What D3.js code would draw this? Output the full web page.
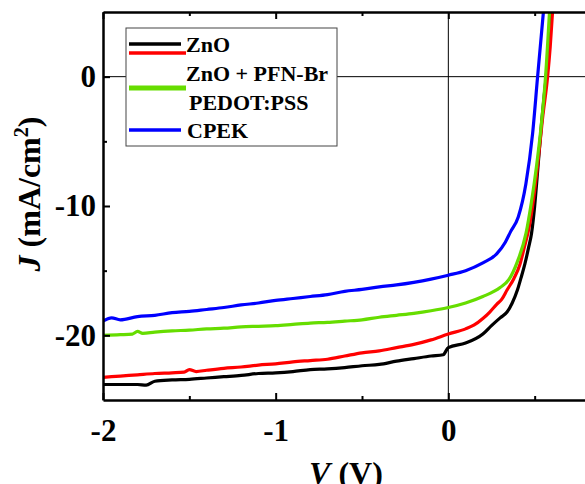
<!DOCTYPE html>
<html>
<head>
<meta charset="utf-8">
<script src="https://cdn.jsdelivr.net/npm/d3@7"></script>
<style>
  body { margin: 0; background: #fff; }
  text { font-family: "Liberation Serif", "Times New Roman", serif; font-weight: bold; }
</style>
</head>
<body>
<div class="chart"></div>
<script>
// J-V curves, [V (V), J (mA/cm2)]
var znoData = [
  [-2.0, -23.8], [-1.9, -23.8], [-1.8, -23.8], [-1.75, -23.85], [-1.7, -23.55], [-1.6, -23.45],
  [-1.5, -23.4], [-1.4, -23.3], [-1.3, -23.2], [-1.2, -23.1], [-1.1, -22.95], [-1.0, -22.9],
  [-0.9, -22.8], [-0.8, -22.65], [-0.7, -22.6], [-0.6, -22.5], [-0.5, -22.35], [-0.4, -22.25],
  [-0.3, -22.0], [-0.2, -21.8], [-0.1, -21.6], [-0.03, -21.5], [0.0, -20.95], [0.1, -20.6],
  [0.2, -19.9], [0.25, -19.25], [0.3, -18.65], [0.34, -18.2], [0.37, -17.5], [0.40, -16.5],
  [0.42, -15.6], [0.443, -14.5], [0.465, -13.2], [0.482, -12.1], [0.50, -10.0], [0.519, -7.0],
  [0.54, -3.6], [0.555, -1.5], [0.567, 0], [0.58, 2.2], [0.598, 5.5]
];
var pfnData = [
  [-2.0, -23.25], [-1.9, -23.15], [-1.8, -23.05], [-1.7, -22.95], [-1.6, -22.9], [-1.53, -22.85],
  [-1.5, -22.65], [-1.46, -22.8], [-1.4, -22.7], [-1.3, -22.55], [-1.2, -22.45], [-1.1, -22.3],
  [-1.0, -22.2], [-0.9, -22.05], [-0.8, -21.95], [-0.7, -21.85], [-0.6, -21.6], [-0.5, -21.35],
  [-0.4, -21.2], [-0.3, -20.95], [-0.2, -20.7], [-0.1, -20.35], [0.0, -19.9], [0.1, -19.5],
  [0.15, -19.2], [0.2, -18.7], [0.24, -18.2], [0.28, -17.6], [0.31, -17.2], [0.34, -16.5],
  [0.38, -15.6], [0.415, -14.5], [0.44, -13.2], [0.47, -11.5], [0.50, -8.8], [0.52, -6.5],
  [0.545, -3.3], [0.575, 0], [0.59, 2.3], [0.606, 5.5]
];
var pedotData = [
  [-2.0, -20.0], [-1.9, -19.95], [-1.83, -19.9], [-1.8, -19.7], [-1.77, -19.85], [-1.7, -19.75],
  [-1.6, -19.65], [-1.5, -19.6], [-1.4, -19.5], [-1.3, -19.45], [-1.2, -19.35], [-1.1, -19.3],
  [-1.0, -19.25], [-0.9, -19.15], [-0.8, -19.05], [-0.7, -19.0], [-0.6, -18.9], [-0.5, -18.8],
  [-0.4, -18.6], [-0.3, -18.45], [-0.2, -18.3], [-0.1, -18.1], [0.0, -17.85], [0.1, -17.5],
  [0.2, -17.0], [0.3, -16.3], [0.35, -15.7], [0.40, -14.3], [0.45, -12.1], [0.48, -9.8],
  [0.51, -7.0], [0.54, -3.5], [0.563, 0], [0.588, 5.5]
];
var cpekData = [
  [-2.0, -18.9], [-1.95, -18.65], [-1.9, -18.8], [-1.8, -18.55], [-1.7, -18.45], [-1.6, -18.25],
  [-1.5, -18.15], [-1.4, -18.0], [-1.3, -17.85], [-1.2, -17.65], [-1.1, -17.5], [-1.0, -17.3],
  [-0.9, -17.15], [-0.8, -17.0], [-0.7, -16.85], [-0.6, -16.6], [-0.5, -16.45], [-0.4, -16.25],
  [-0.3, -16.1], [-0.2, -15.9], [-0.1, -15.65], [0.0, -15.35], [0.1, -15.0], [0.2, -14.4],
  [0.28, -13.7], [0.33, -12.8], [0.36, -12.0], [0.405, -10.85], [0.449, -8.3], [0.488, -4.4],
  [0.517, 0], [0.554, 5.5]
];

var seriesNames = ["ZnO", "ZnO + PFN-Br", "PEDOT:PSS", "CPEK"];
var seriesColors = ["#000000", "#ff0000", "#66dd00", "#0000ff"];
var seriesData = [znoData, pfnData, pedotData, cpekData];

var xMajor = [-2, -1, 0, 1];
var xMinor = [-1.5, -0.5, 0.5];
var yMajor = [0, -10, -20];
var yMinor = [-5, -15];

var bSize = { width: 585, height: 484 };
var plotBox = { left: 103, top: 12, bottom: 400, right: 621 };

var svg = d3.select(".chart")
  .append("svg")
  .attr("width", bSize.width)
  .attr("height", bSize.height);

var x = d3.scaleLinear().domain([-2, 1]).range([plotBox.left, plotBox.right]);
var y = d3.scaleLinear().domain([-25, 5]).range([plotBox.bottom, plotBox.top]);

// plain hyphen minus, like the original figure; "1" sits off the page
var tickText = function(d) { return d > 0.5 ? "" : String(d); };

svg.append("clipPath").attr("id", "plot")
  .append("rect")
  .attr("x", plotBox.left).attr("y", plotBox.top)
  .attr("width", plotBox.right - plotBox.left)
  .attr("height", plotBox.bottom - plotBox.top);

// zero lines
svg.append("line")
  .attr("x1", plotBox.left).attr("x2", plotBox.right)
  .attr("y1", y(0)).attr("y2", y(0))
  .attr("stroke", "#000").attr("stroke-width", 1);
svg.append("line")
  .attr("x1", x(0)).attr("x2", x(0))
  .attr("y1", plotBox.top).attr("y2", plotBox.bottom)
  .attr("stroke", "#000").attr("stroke-width", 1);

var line = d3.line()
  .x(function(d) { return x(d[0]); })
  .y(function(d) { return y(d[1]); })
  .curve(d3.curveMonotoneX);

var curves = svg.append("g").attr("clip-path", "url(#plot)");
for (var i = 0; i < seriesData.length; i++) {
  curves.append("path")
    .attr("d", line(seriesData[i]))
    .attr("fill", "none")
    .attr("stroke", seriesColors[i])
    .attr("stroke-width", 3.2)
    .attr("stroke-linejoin", "round");
}

// axes
var styleAxis = function(g, size) {
  g.select(".domain").attr("stroke-width", 2.5);
  g.selectAll(".tick line").attr("stroke-width", 2);
  g.selectAll("text").attr("font-size", size).attr("fill", "#000");
};
var minorAxis = function(g) {
  g.select(".domain").remove();
  g.selectAll(".tick line").attr("stroke-width", 2);
};

svg.append("g")
  .attr("transform", "translate(0," + plotBox.bottom + ")")
  .call(d3.axisBottom(x).tickValues(xMajor).tickSizeInner(-7).tickSizeOuter(0)
    .tickPadding(19).tickFormat(tickText))
  .call(styleAxis, 31);
svg.append("g")
  .attr("transform", "translate(0," + plotBox.bottom + ")")
  .call(d3.axisBottom(x).tickValues(xMinor).tickSizeInner(-4).tickSizeOuter(0).tickFormat(""))
  .call(minorAxis);

svg.append("g")
  .attr("transform", "translate(0," + plotBox.top + ")")
  .call(d3.axisTop(x).tickValues(xMajor).tickSizeInner(-7).tickSizeOuter(0).tickFormat(""))
  .call(styleAxis, 0);
svg.append("g")
  .attr("transform", "translate(0," + plotBox.top + ")")
  .call(d3.axisTop(x).tickValues(xMinor).tickSizeInner(-4).tickSizeOuter(0).tickFormat(""))
  .call(minorAxis);

svg.append("g")
  .attr("transform", "translate(" + plotBox.left + ",0)")
  .call(d3.axisLeft(y).tickValues(yMajor).tickSizeInner(-7).tickSizeOuter(0)
    .tickPadding(7).tickFormat(tickText))
  .call(styleAxis, 31);
svg.append("g")
  .attr("transform", "translate(" + plotBox.left + ",0)")
  .call(d3.axisLeft(y).tickValues(yMinor).tickSizeInner(-4).tickSizeOuter(0).tickFormat(""))
  .call(minorAxis);

// axis titles
var xTitle = svg.append("text")
  .attr("x", 346).attr("y", 484)
  .attr("text-anchor", "middle")
  .attr("font-size", 32);
xTitle.append("tspan").attr("font-style", "italic").text("V");
xTitle.append("tspan").text(" (V)");

var yTitle = svg.append("text")
  .attr("transform", "translate(40,194) rotate(-90)")
  .attr("text-anchor", "middle")
  .attr("font-size", 32);
yTitle.append("tspan").attr("font-style", "italic").text("J");
yTitle.append("tspan").text(" (mA/cm");
yTitle.append("tspan").attr("font-size", 20).attr("dy", -12).text("2");
yTitle.append("tspan").attr("dy", 12).text(")");

// legend
var legend = svg.append("g");
legend.append("rect")
  .attr("x", 126).attr("y", 28)
  .attr("width", 211).attr("height", 118)
  .attr("fill", "#fff")
  .attr("stroke", "#444").attr("stroke-width", 1);

var legendLines = [
  { y: 44, x2: 181, w: 3.5 },
  { y: 53, x2: 186, w: 3.5 },
  { y: 88, x2: 186, w: 5 },
  { y: 130, x2: 181, w: 3.5 }
];
var legendText = [
  { text: seriesNames[0], x: 186, y: 52 },
  { text: seriesNames[1], x: 186, y: 81 },
  { text: seriesNames[2], x: 189, y: 110 },
  { text: seriesNames[3], x: 187, y: 138 }
];
legendLines.forEach(function(d, i) {
  legend.append("line")
    .attr("x1", 129).attr("x2", d.x2)
    .attr("y1", d.y).attr("y2", d.y)
    .attr("stroke", seriesColors[i])
    .attr("stroke-width", d.w);
});
legendText.forEach(function(d) {
  legend.append("text")
    .attr("x", d.x).attr("y", d.y)
    .attr("font-size", 22)
    .text(d.text);
});
</script>
</body>
</html>
